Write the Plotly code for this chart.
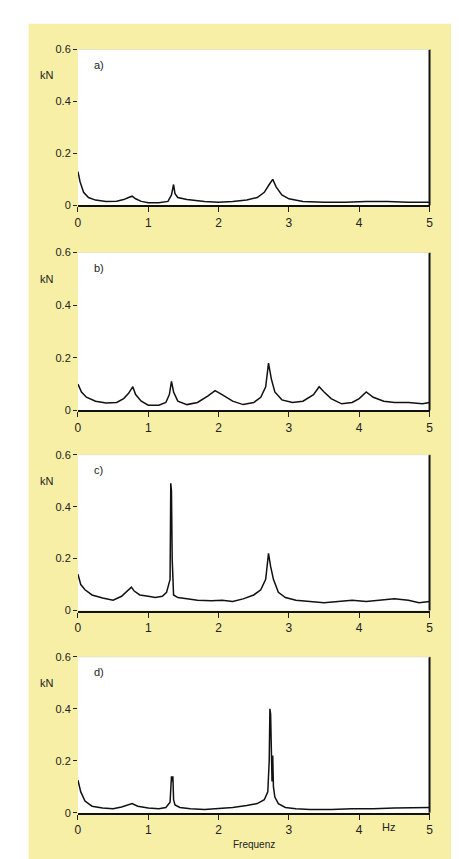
import plotly.graph_objects as go

# ---- data ----
freq_a = [0.0, 0.03, 0.08, 0.15, 0.25, 0.4, 0.55, 0.65, 0.72, 0.77, 0.82, 0.9, 1.0, 1.15, 1.28, 1.33, 1.36, 1.38, 1.42, 1.55,
          1.8, 2.0, 2.2, 2.4, 2.55, 2.65, 2.72, 2.77, 2.82, 2.9, 3.0, 3.2, 3.5, 3.8, 4.1, 4.4, 4.7, 5.0]
amp_a = [0.13, 0.09, 0.05, 0.03, 0.02, 0.015, 0.016, 0.022, 0.03, 0.035, 0.025, 0.015, 0.01, 0.01, 0.015, 0.04, 0.08, 0.045, 0.03, 0.022,
         0.015, 0.012, 0.015, 0.02, 0.03, 0.05, 0.08, 0.1, 0.07, 0.04, 0.025, 0.015, 0.012, 0.012, 0.015, 0.015, 0.012, 0.012]

freq_b = [0.0, 0.05, 0.12, 0.25, 0.4, 0.55, 0.65, 0.72, 0.78, 0.82, 0.9, 1.0, 1.15, 1.25, 1.3, 1.33, 1.36, 1.42, 1.55, 1.7,
          1.85, 1.95, 2.05, 2.2, 2.35, 2.5, 2.6, 2.67, 2.71, 2.75, 2.8, 2.9, 3.05, 3.2, 3.35, 3.43, 3.5, 3.6, 3.75, 3.9,
          4.0, 4.1, 4.2, 4.35, 4.5, 4.7, 4.9, 5.0]
amp_b = [0.1, 0.07, 0.05, 0.035, 0.028, 0.03, 0.045, 0.065, 0.09, 0.06, 0.035, 0.02, 0.02, 0.03, 0.06, 0.11, 0.07, 0.035, 0.022, 0.03,
         0.055, 0.075, 0.06, 0.035, 0.022, 0.03, 0.05, 0.09, 0.18, 0.12, 0.07, 0.04, 0.03, 0.035, 0.06, 0.09, 0.07, 0.045, 0.025, 0.03,
         0.045, 0.07, 0.05, 0.035, 0.03, 0.03, 0.025, 0.03]

freq_c = [0.0, 0.04, 0.1, 0.2, 0.35, 0.5, 0.62, 0.7, 0.76, 0.8, 0.88, 1.0, 1.1, 1.2, 1.26, 1.31, 1.32, 1.33, 1.34, 1.36,
          1.42, 1.55, 1.7, 1.9, 2.05, 2.2, 2.35, 2.5, 2.6, 2.67, 2.71, 2.74, 2.78, 2.85, 2.95, 3.1, 3.3, 3.5, 3.7, 3.9,
          4.1, 4.3, 4.5, 4.7, 4.85, 5.0]
amp_c = [0.14, 0.1, 0.08, 0.06, 0.048, 0.04, 0.055, 0.075, 0.09, 0.075, 0.06, 0.055, 0.05, 0.055, 0.07, 0.12, 0.49, 0.46, 0.2, 0.06,
         0.05, 0.045, 0.04, 0.038, 0.04, 0.035, 0.045, 0.06, 0.08, 0.12, 0.22, 0.17, 0.12, 0.07, 0.05, 0.04, 0.035, 0.03, 0.035, 0.04,
         0.035, 0.04, 0.045, 0.04, 0.03, 0.035]

freq_d = [0.0, 0.04, 0.1, 0.2, 0.35, 0.5, 0.62, 0.7, 0.77, 0.85, 1.0, 1.15, 1.25, 1.31, 1.33, 1.34, 1.35, 1.36, 1.38, 1.45,
          1.6, 1.8, 2.0, 2.2, 2.4, 2.55, 2.65, 2.7, 2.72, 2.73, 2.74, 2.76, 2.77, 2.78, 2.8, 2.85, 2.95, 3.1, 3.3, 3.6,
          3.9, 4.2, 4.5, 4.8, 5.0]
amp_d = [0.125, 0.08, 0.045, 0.025, 0.018, 0.015, 0.022, 0.03, 0.035, 0.025, 0.018, 0.015, 0.02, 0.04, 0.14, 0.12, 0.14, 0.05, 0.03, 0.02,
         0.015, 0.012, 0.015, 0.02, 0.028, 0.035, 0.05, 0.08, 0.2, 0.4, 0.38, 0.12, 0.22, 0.1, 0.06, 0.035, 0.02, 0.015, 0.012, 0.012,
         0.015, 0.015, 0.018, 0.02, 0.02]

panel_labels = ["a)", "b)", "c)", "d)"]
x_ticks = [0, 1, 2, 3, 4, 5]
y_ticks = [0, 0.2, 0.4, 0.6]
y_tick_text = ["0", "0.2", "0.4", "0.6"]

series = [(freq_a, amp_a), (freq_b, amp_b), (freq_c, amp_c), (freq_d, amp_d)]

W, H = 459, 859
x_dom = [68 / W, 425 / W]
panel_px = [(36, 194), (242, 402), (447, 605), (652, 810)]
y_doms = [[1 - b / H, 1 - t / H] for t, b in panel_px]

fig = go.Figure()
FONT = "Liberation Sans, Arial, sans-serif"
shapes = [dict(type="rect", xref="paper", yref="paper", x0=18 / W, x1=455 / W, y0=1 - 858 / H, y1=1 - 10 / H,
               fillcolor="#F8EFA6", line=dict(width=0), layer="below")]
annotations = []

for i, (f, a) in enumerate(series):
    n = "" if i == 0 else str(i + 1)
    fig.add_trace(go.Scatter(x=f, y=a, mode="lines", line=dict(color="#111111", width=1.5),
                             xaxis="x" + n, yaxis="y" + n, showlegend=False, hoverinfo="skip"))
    fig.layout["xaxis" + n] = dict(domain=x_dom, anchor="y" + n, range=[0, 5], tickvals=x_ticks,
                                   ticks="outside", ticklen=5, tickcolor="#222", showgrid=False, zeroline=False,
                                   showline=True, linecolor="#111", linewidth=2,
                                   tickfont=dict(family=FONT, size=12, color="#222"))
    fig.layout["yaxis" + n] = dict(domain=y_doms[i], anchor="x" + n, range=[0, 0.6], tickvals=y_ticks,
                                   ticktext=y_tick_text, ticks="outside", ticklen=4, tickcolor="#222",
                                   showgrid=False, zeroline=False, showline=False,
                                   tickfont=dict(family=FONT, size=11, color="#222"))
    # white plotting area
    shapes.append(dict(type="rect", xref="x" + n + " domain", yref="y" + n + " domain", x0=0, x1=1, y0=0, y1=1,
                       fillcolor="white", line=dict(width=0), layer="below"))
    # right-hand frame line
    shapes.append(dict(type="line", xref="x" + n + " domain", yref="y" + n + " domain", x0=1, x1=1, y0=0, y1=1,
                       line=dict(color="#111", width=2)))
    # faint top frame
    shapes.append(dict(type="line", xref="x" + n + " domain", yref="y" + n + " domain", x0=0, x1=1, y0=1, y1=1,
                       line=dict(color="#E8E4C8", width=1)))
    annotations.append(dict(text=panel_labels[i], xref="x" + n, yref="y" + n, x=0.2, y=0.54,
                            xanchor="left", yanchor="middle", showarrow=False,
                            font=dict(family=FONT, size=11, color="#222")))
    annotations.append(dict(text="kN", xref="paper", yref="y" + n, x=37 / W, y=0.5,
                            xanchor="center", yanchor="middle", showarrow=False,
                            font=dict(family=FONT, size=11, color="#222")))

annotations.append(dict(text="Hz", xref="x4", yref="paper", x=4.42, y=1 - 825 / H, xanchor="center",
                        yanchor="middle", showarrow=False, font=dict(family=FONT, size=11, color="#222")))
annotations.append(dict(text="Frequenz", xref="x4", yref="paper", x=2.5, y=1 - 842 / H, xanchor="center",
                        yanchor="middle", showarrow=False, font=dict(family=FONT, size=10, color="#222")))

fig.update_layout(width=W, height=H, margin=dict(l=0, r=0, t=0, b=0),
                  paper_bgcolor="white", plot_bgcolor="white",
                  shapes=shapes, annotations=annotations)

fig.write_html("out.html")
